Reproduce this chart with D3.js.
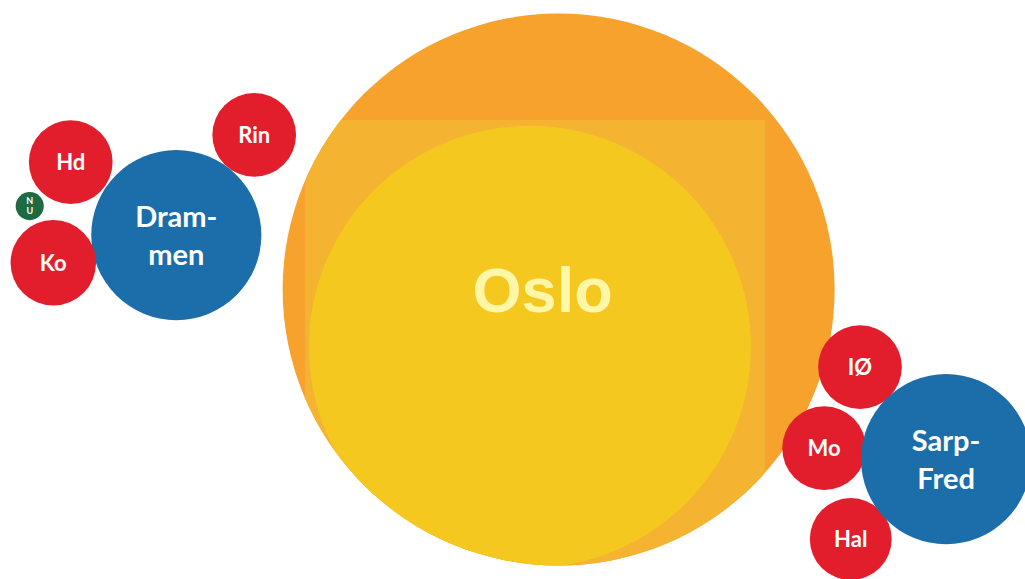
<!DOCTYPE html>
<html>
<head>
<meta charset="utf-8">
<script src="https://cdn.jsdelivr.net/npm/d3@7"></script>
<style>
  html, body { margin: 0; padding: 0; background: #fff; }
  svg { display: block; }
</style>
</head>
<body>
<svg id="chart"></svg>
<script>
let w = 1025;
let h = 579;

// bubbles (x, y in percent of the map, value = size)
const names = ['Oslo', 'Drammen', 'Rin', 'Hd', 'Ko', 'NU', 'IØ', 'Mo', 'Hal', 'Sarp-Fred'];
const labels = [['Oslo'], ['Dram-', 'men'], ['Rin'], ['Hd'], ['Ko'], ['N', 'U'], ['IØ'], ['Mo'], ['Hal'], ['Sarp-', 'Fred']];
const groups = ['core', 'city', 'town', 'town', 'town', 'small', 'town', 'town', 'town', 'city'];
const xs = [54.5, 17.2, 24.8, 6.9, 5.2, 2.9, 83.9, 80.4, 83.0, 92.3];
const ys = [50.0, 40.6, 23.3, 28.0, 45.4, 35.6, 63.4, 77.4, 93.1, 79.3];
const values = [1000, 95, 23, 23, 24, 2.6, 23, 23, 22, 95];

// inner layers of the Oslo bubble
const layerNames = ['square', 'inner'];
const layerXs = [52.2, 51.7];
const layerYs = [60.4, 59.9];
const layerValues = [694, 641];

const colors = {
    core: '#f6a22c',
    city: '#1b6eaa',
    town: '#e31e2c',
    small: '#1d6a43'
};

const svg = d3.select('#chart')
    .attr('width', w)
    .attr('height', h);

const xScale = d3.scaleLinear().domain([0, 100]).range([0, w]);
const yScale = d3.scaleLinear().domain([0, 100]).range([0, h]);
const rScale = d3.scaleSqrt().domain([0, 1000]).range([0, 276]);

const bubbles = names.map((n, i) => ({
    name: n,
    lines: labels[i],
    group: groups[i],
    x: xScale(xs[i]),
    y: yScale(ys[i]),
    r: rScale(values[i])
}));

const oslo = bubbles[0];

svg.append('clipPath')
    .attr('id', 'osloClip')
    .append('circle')
    .attr('cx', oslo.x)
    .attr('cy', oslo.y)
    .attr('r', oslo.r);

svg.selectAll('circle.bubble')
    .data(bubbles)
    .join('circle')
    .attr('class', 'bubble')
    .attr('cx', d => d.x)
    .attr('cy', d => d.y)
    .attr('r', d => d.r)
    .attr('fill', d => colors[d.group]);

// Oslo layers: a square and a yellow circle, clipped to the big bubble
const layerG = svg.append('g').attr('clip-path', 'url(#osloClip)');
layerNames.forEach((n, i) => {
    const cx = xScale(layerXs[i]);
    const cy = yScale(layerYs[i]);
    const r = rScale(layerValues[i]);
    if (n === 'square') {
        layerG.append('rect')
            .attr('x', cx - r)
            .attr('y', cy - r)
            .attr('width', 2 * r)
            .attr('height', 2 * r)
            .attr('fill', '#f4b331');
    } else {
        layerG.append('circle')
            .attr('cx', cx)
            .attr('cy', cy)
            .attr('r', r)
            .attr('fill', '#f5c820');
    }
});

// labels
bubbles.forEach(d => {
    let fs, lh, family, fill, tx;
    if (d.group === 'core') {
        fs = 63; lh = 0; family = '"Liberation Sans", Arial, sans-serif'; fill = '#fff6a8'; tx = d.x - 16;
    } else if (d.group === 'city') {
        fs = 29; lh = 38; family = 'Lato, "Open Sans", sans-serif'; fill = '#fff'; tx = d.x;
    } else if (d.group === 'small') {
        fs = 9; lh = 10; family = 'Lato, "Open Sans", sans-serif'; fill = '#fff'; tx = d.x;
    } else {
        fs = 22; lh = 0; family = 'Lato, "Open Sans", sans-serif'; fill = '#fff'; tx = d.x;
    }
    const n = d.lines.length;
    const t = svg.append('text')
        .attr('text-anchor', 'middle')
        .attr('font-family', family)
        .attr('font-weight', 'bold')
        .attr('font-size', fs)
        .attr('fill', fill);
    d.lines.forEach((line, i) => {
        t.append('tspan')
            .attr('x', tx)
            .attr('y', d.y + (i - (n - 1) / 2) * lh + 0.36 * fs)
            .text(line);
    });
});
</script>
</body>
</html>
